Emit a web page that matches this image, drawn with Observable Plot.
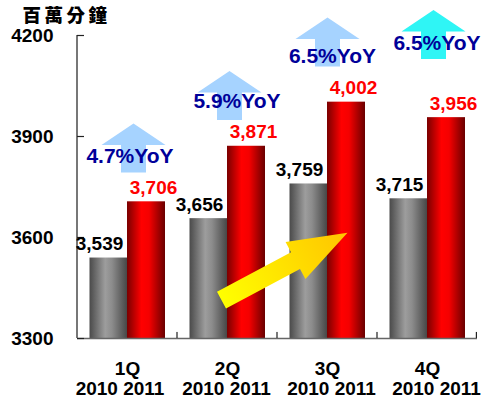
<!DOCTYPE html>
<html>
<head>
<meta charset="utf-8">
<script src="https://cdn.jsdelivr.net/npm/d3@7"></script>
<script src="https://cdn.jsdelivr.net/npm/@observablehq/plot@0.6"></script>
<style>
  html, body { margin: 0; padding: 0; background: #fff; }
  #chart { width: 484px; height: 401px; }
</style>
</head>
<body>
<div id="chart"></div>
<script>
// ---- data ----
const unitLabel = "百萬分鐘";
const quarters = ["1Q", "2Q", "3Q", "4Q"];
const years = ["2010", "2011"];
const values2010 = [3539, 3656, 3759, 3715];
const values2011 = [3706, 3871, 4002, 3956];
const yoyLabels = ["4.7%YoY", "5.9%YoY", "6.5%YoY", "6.5%YoY"];
const yTicks = [3300, 3600, 3900, 4200];

// ---- layout (annotation placement, not data) ----
const arrowLayout = [
  {dx: 6, y: 3866, ty: 3842, tdx: 2.5, color: "#a6d3ff"},
  {dx: 2, y: 4022, ty: 4005, tdx: 9.5, color: "#a6d3ff"},
  {dx: 0, y: 4181, ty: 4139, tdx: 5, color: "#a6d3ff"},
  {dx: 6, y: 4203, ty: 4178, tdx: 9.5, color: "#2ff5f5"}
];
const yearDx = [-7.5, -1, 4, 9];

const fmt = d3.format(",");
const rows2010 = quarters.map((q, i) => ({q, v: values2010[i]}));
const rows2011 = quarters.map((q, i) => ({q, v: values2011[i]}));

// custom symbols (units: pixels when r = 10)
const upArrow = {
  draw(ctx, size) {
    const k = Math.sqrt(size / Math.PI) / 10;
    ctx.moveTo(0, -24.5 * k);
    ctx.lineTo(32 * k, -3 * k);
    ctx.lineTo(12.5 * k, -3 * k);
    ctx.lineTo(12.5 * k, 24.5 * k);
    ctx.lineTo(-12.5 * k, 24.5 * k);
    ctx.lineTo(-12.5 * k, -3 * k);
    ctx.lineTo(-32 * k, -3 * k);
    ctx.closePath();
  }
};
const bigArrow = {
  draw(ctx, size) {
    const k = Math.sqrt(size / Math.PI) / 10;
    ctx.moveTo(-71.5 * k, -9.5 * k);
    ctx.lineTo(12.5 * k, -9.5 * k);
    ctx.lineTo(12.5 * k, -21 * k);
    ctx.lineTo(71.5 * k, 0);
    ctx.lineTo(12.5 * k, 21 * k);
    ctx.lineTo(12.5 * k, 9.5 * k);
    ctx.lineTo(-71.5 * k, 9.5 * k);
    ctx.closePath();
  }
};

const font = "Arial, 'Liberation Sans', sans-serif";

const marks = [
  // bars
  Plot.barY(rows2010, {x: "q", y1: 3300, y2: "v", insetLeft: 12.5, insetRight: 50, fill: "url(#grayGrad)"}),
  Plot.barY(rows2011, {x: "q", y1: 3300, y2: "v", insetLeft: 50, insetRight: 12, fill: "url(#redGrad)"}),
  // axis lines & ticks
  Plot.barY([quarters[0]], {x: d => d, y1: 3300, y2: 4200, insetLeft: -1, insetRight: 99, fill: "#777"}),
  Plot.ruleY([3300], {stroke: "#666", strokeWidth: 1.6}),
  Plot.tickY(yTicks, {y: d => d, x: () => quarters[0], insetRight: 93, stroke: "#222", strokeWidth: 1.2}),
  Plot.barY(quarters.slice(1), {x: d => d, y1: 3300, y2: 3318, insetLeft: -0.6, insetRight: 99.4, fill: "#222"}),
  Plot.barY([quarters[3]], {x: d => d, y1: 3300, y2: 3318, insetLeft: 98.8, insetRight: 0, fill: "#222"}),
  Plot.axisY(yTicks, {tickSize: 0, tickPadding: 24, fontSize: 19, fontWeight: "bold", tickFormat: d => String(d), label: null, fill: "#000"}),
  // value labels
  Plot.text(rows2010, {x: "q", y: "v", text: d => fmt(d.v), dx: -28, dy: -8, lineAnchor: "bottom", fontSize: 19, fontWeight: "bold", fill: "#000"}),
  Plot.text(rows2011, {x: "q", y: "v", text: d => fmt(d.v), dx: 26, dy: -8, lineAnchor: "bottom", fontSize: 19, fontWeight: "bold", fill: "#ff0000"}),
  // big yellow arrow
  Plot.dot([quarters[2]], {x: d => d, y: () => 3514, dx: -43, r: 10, symbol: bigArrow, fill: "url(#yellowGrad)", stroke: "none", rotate: -28.2}),
  // x labels
  Plot.text(quarters, {x: d => d, frameAnchor: "bottom", dy: 30, lineAnchor: "middle", fontSize: 19, fontWeight: "bold", fill: "#000"}),
  ...quarters.map((q, i) => Plot.text([q], {x: d => d, text: () => years.join(" "), frameAnchor: "bottom", dy: 50.5, dx: yearDx[i], lineAnchor: "middle", fontSize: 19, fontWeight: "bold", fill: "#000"})),
  // YoY arrows and labels
  ...quarters.map((q, i) => Plot.dot([q], {x: d => d, y: () => arrowLayout[i].y, dx: arrowLayout[i].dx, r: 10, symbol: upArrow, fill: arrowLayout[i].color, stroke: "none"})),
  ...quarters.map((q, i) => Plot.text([q], {x: d => d, y: () => arrowLayout[i].ty, dx: arrowLayout[i].tdx, text: () => yoyLabels[i], lineAnchor: "middle", fontSize: 21, fontWeight: "bold", fill: "#000099"})),
  // unit label
  Plot.text([unitLabel], {frameAnchor: "top-left", text: d => d, dx: -55, dy: -19, textAnchor: "start", lineAnchor: "middle", fontSize: 18.5, fontWeight: 900, fill: "#000", fontFamily: "'Noto Sans CJK TC', 'Noto Sans CJK SC', sans-serif"})
];

const svg = Plot.plot({
  width: 484,
  height: 401,
  marginLeft: 77,
  marginRight: 7,
  marginTop: 35,
  marginBottom: 63,
  style: {fontFamily: font, background: "white", overflow: "visible"},
  x: {domain: quarters, padding: 0, axis: null},
  y: {domain: [3300, 4200], axis: null},
  marks
});

const defs = d3.select(svg).insert("defs", ":first-child");
const g1 = defs.append("linearGradient").attr("id", "grayGrad").attr("x1", 0).attr("x2", 1).attr("y1", 0).attr("y2", 0);
g1.append("stop").attr("offset", "0%").attr("stop-color", "#4a4a4a");
g1.append("stop").attr("offset", "42%").attr("stop-color", "#9d9d9d");
g1.append("stop").attr("offset", "60%").attr("stop-color", "#8c8c8c");
g1.append("stop").attr("offset", "100%").attr("stop-color", "#474747");
const g2 = defs.append("linearGradient").attr("id", "redGrad").attr("x1", 0).attr("x2", 1).attr("y1", 0).attr("y2", 0);
g2.append("stop").attr("offset", "0%").attr("stop-color", "#7a0000");
g2.append("stop").attr("offset", "38%").attr("stop-color", "#ff0000");
g2.append("stop").attr("offset", "58%").attr("stop-color", "#f50000");
g2.append("stop").attr("offset", "100%").attr("stop-color", "#6a0000");
const g3 = defs.append("linearGradient").attr("id", "yellowGrad").attr("x1", 0).attr("x2", 1).attr("y1", 0).attr("y2", 0);
g3.append("stop").attr("offset", "0%").attr("stop-color", "#ffff00");
g3.append("stop").attr("offset", "100%").attr("stop-color", "#ffc400");

d3.select(svg).selectAll("text").filter(function() { return this.textContent === unitLabel; })
  .attr("letter-spacing", "3.5px");

document.getElementById("chart").appendChild(svg);
</script>
</body>
</html>
